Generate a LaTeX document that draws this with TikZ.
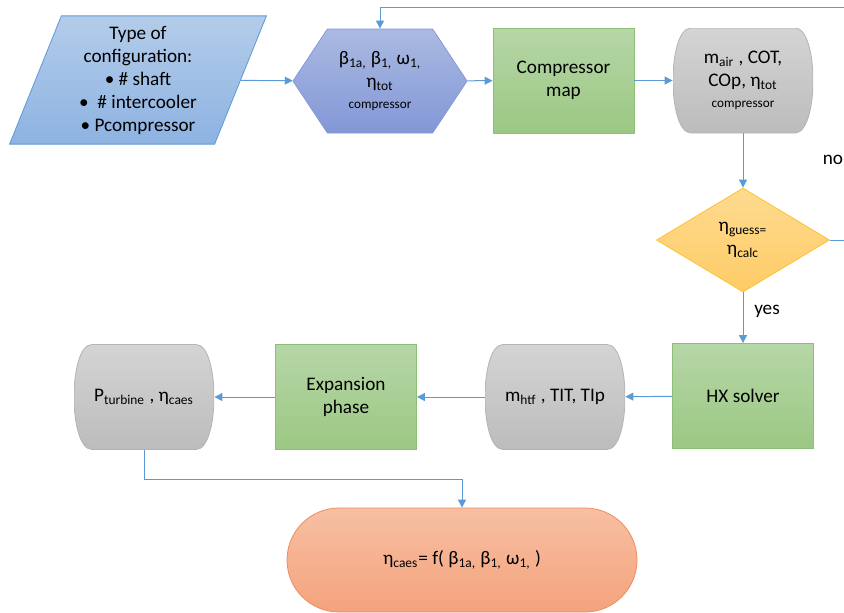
\documentclass[tikz,border=0pt]{standalone}
\usepackage{fontspec}
\setmainfont{Carlito}
\usetikzlibrary{arrows.meta,shapes.geometric,shapes.symbols}

\definecolor{link}{HTML}{5B9BD5}
\definecolor{inA}{HTML}{B4CCE9}
\definecolor{inB}{HTML}{8DB3E2}
\definecolor{parA}{HTML}{AABAE2}
\definecolor{parB}{HTML}{8397D6}
\definecolor{procA}{HTML}{B6D6A7}
\definecolor{procB}{HTML}{9BC883}
\definecolor{procL}{HTML}{8DC076}
\definecolor{outA}{HTML}{D4D4D4}
\definecolor{outB}{HTML}{BCBCBC}
\definecolor{outL}{HTML}{B4B4B4}
\definecolor{askA}{HTML}{FEDA90}
\definecolor{askB}{HTML}{FECC66}
\definecolor{askL}{HTML}{FFC22E}
\definecolor{endA}{HTML}{F7BFA3}
\definecolor{endB}{HTML}{F4A37C}
\definecolor{endL}{HTML}{EE8E5F}

\newcommand\subtag[1]{\\[-1pt]{\fontsize{6.6}{8}\selectfont #1}}

\begin{document}
\begin{tikzpicture}[x=0.5pt,y=-0.5pt,
    font=\fontsize{9.6}{11.5}\selectfont,
    flow/.style={draw=link,line width=0.5pt,-{Triangle[width=4pt,length=4pt]}},
    inbox/.style={trapezium,trapezium left angle=68,trapezium right angle=112,
      minimum width=128.5pt,minimum height=63pt,inner xsep=0pt,inner ysep=-2.5pt,
      top color=inA,bottom color=inB,draw=link,line width=0.4pt,align=center},
    parbox/.style={signal,signal to=west and east,signal pointer angle=113,
      minimum width=87pt,minimum height=52pt,inner sep=0pt,
      top color=parA,bottom color=parB,draw=parB,line width=0.4pt,align=center},
    procbox/.style={rectangle,minimum width=70.5pt,minimum height=52.5pt,
      top color=procA,bottom color=procB,draw=procL,line width=0.4pt,align=center},
    outbox/.style={rectangle,minimum width=70pt,minimum height=52.5pt,align=center,
      path picture={\shade[top color=outA,bottom color=outB,draw=outL,line width=0.4pt]
        ([xshift=9pt]path picture bounding box.north west)
        -- ([xshift=-9pt]path picture bounding box.north east)
        .. controls ([xshift=3pt]path picture bounding box.north east)
        and ([xshift=3pt]path picture bounding box.south east)
        .. ([xshift=-9pt]path picture bounding box.south east)
        -- ([xshift=9pt]path picture bounding box.south west)
        .. controls ([xshift=-3pt]path picture bounding box.south west)
        and ([xshift=-3pt]path picture bounding box.north west) .. cycle;}},
    askbox/.style={diamond,minimum width=86.5pt,minimum height=52pt,inner sep=0pt,
      top color=askA,bottom color=askB,draw=askL,line width=0.4pt,align=center},
    endbox/.style={rectangle,rounded corners=26pt,minimum width=175pt,minimum height=52pt,
      top color=endA,bottom color=endB,draw=endL,line width=0.4pt}]
  \useasboundingbox (0,0) rectangle (844,612);

  % upper row
  \node[inbox] (cfg) at (138,80) {Type of\\configuration:\\• \# shaft\\•\ \ \# intercooler\\• Pcompressor};
  \node[parbox] (par) at (380,81) {β\textsubscript{1a,} β\textsubscript{1,} ω\textsubscript{1,}\\η\textsubscript{tot}\subtag{compressor}};
  \node[procbox] (cmap) at (563.5,80.5) {Compressor\\map};
  \node[outbox] (cout) at (743,80.5) {m\textsubscript{air} , COT,\\COp, η\textsubscript{tot}\subtag{compressor}};

  % check and lower row
  \node[askbox] (test) at (743,240) {η\textsubscript{guess=}\\η\textsubscript{calc}};
  \node[procbox] (hx) at (743,396) {HX solver};
  \node[outbox] (htf) at (555,397) {m\textsubscript{htf} , TIT, TIp};
  \node[procbox] (exp) at (346,397) {Expansion\\phase};
  \node[outbox] (turb) at (144,397) {P\textsubscript{turbine} , η\textsubscript{caes}};
  \node[endbox] (res) at (462,560) {η\textsubscript{caes}= f( β\textsubscript{1a,} β\textsubscript{1,} ω\textsubscript{1,} )};

  \node (no) at (833,160) {no};
  \node (yes) at (767,311) {yes};
  \coordinate (back) at (870,7);

  \draw[flow] (cfg) -- (par);
  \draw[flow] (par) -- (cmap);
  \draw[flow] (cmap) -- (cout);
  \draw[flow] (cout) -- (test);
  \draw[flow] (test) -- (hx);
  \draw[flow] (test.east) -| (back) -| (par.north);
  \draw[flow] (hx) -- (htf);
  \draw[flow] (htf) -- (exp);
  \draw[flow] (exp) -- (turb);
  \draw[flow] (turb.south) -- ++(0,30) -| (res.north);
\end{tikzpicture}
\end{document}
